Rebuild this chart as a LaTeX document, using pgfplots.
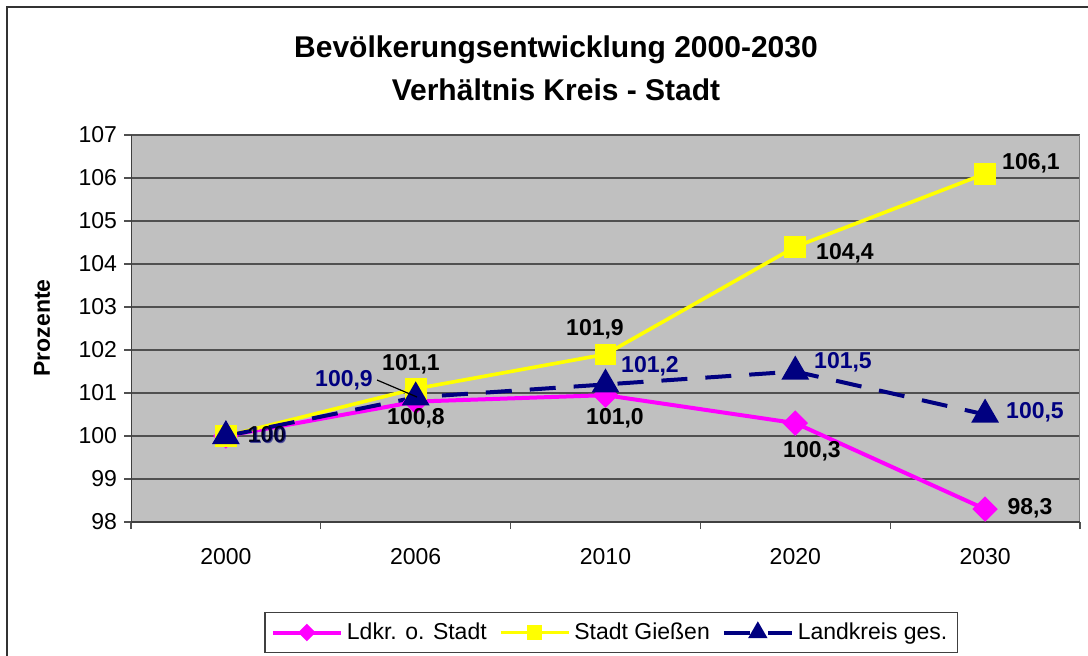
\documentclass[border=0pt]{standalone}
\usepackage{fontspec}
\setmainfont{Liberation Sans}
\usepackage{pgfplots}
\pgfplotsset{compat=1.18}
\definecolor{plotbg}{RGB}{192,192,192}
\definecolor{gridc}{RGB}{80,80,80}
\definecolor{navyc}{RGB}{0,0,128}
\definecolor{magc}{RGB}{255,0,255}
\definecolor{yelc}{RGB}{255,255,0}
\newcommand\lab{\fontsize{11.5}{13}\selectfont\bfseries}

\begin{document}
\begin{tikzpicture}
% frame and bounding box in pixel units (1px = 0.5pt)
\begin{scope}[x=0.5pt,y=-0.5pt]
\path[use as bounding box] (0,0) rectangle (1088,655);
\draw[line width=0.8pt, black!80] (7,660) -- (7,7) -- (1095,7);
\end{scope}

\begin{axis}[
  at={(65.5pt,-261pt)}, anchor=south west,
  scale only axis, width=474.5pt, height=193.5pt,
  xmin=-0.5, xmax=4.5, ymin=98, ymax=107,
  xtick={0,...,4}, xticklabels={2000,2006,2010,2020,2030},
  minor xtick={-0.5,0.5,...,4.5},
  ytick={98,...,107},
  xtick pos=bottom, ytick pos=left,
  tick align=outside, major tick length=3.5pt, minor tick length=3.5pt,
  major x tick style={draw=none},
  tick style={gridc, line width=0.6pt},
  ymajorgrids, grid style={gridc, line width=0.6pt},
  axis background/.style={fill=plotbg},
  axis line style={draw=none},
  ticklabel style={font=\fontsize{11.5}{13}\selectfont},
  /pgf/number format/assume math mode=true,
  xticklabel style={yshift=-6pt},
  legend style={at={(0.506,-0.2855)}, anchor=center, draw=black!75,
    line width=0.6pt, font=\fontsize{11.5}{13}\selectfont,
    inner ysep=3pt, inner xsep=3pt,
    /tikz/every even column/.append style={column sep=4pt}},
  legend columns=3,
  legend cell align=left,
  legend image code/.code={\draw[mark repeat=2, mark phase=2, #1,
    every mark/.append style={scale=0.6}]
    plot coordinates {(0pt,0pt) (17pt,0pt) (34pt,0pt)};},
]
\addplot[magc, line width=2pt, mark=square*, mark size=3.5pt,
  mark options={rotate=45, solid}]
  coordinates {(0,100) (1,100.8) (2,100.95) (3,100.3) (4,98.3)};
\addplot[yelc, line width=1.8pt, mark=square*, mark size=4.5pt,
  mark options={solid}]
  coordinates {(0,100) (1,101.1) (2,101.9) (3,104.4) (4,106.1)};
\addplot[navyc, line width=2pt, dash pattern=on 13pt off 9pt,
  mark=triangle*, mark size=6pt, mark options={solid}]
  coordinates {(0,100) (1,100.9) (2,101.2) (3,101.5) (4,100.5)};
\legend{Ldkr. o. Stadt, Stadt Gießen, Landkreis ges.}
\draw[gray, line width=0.6pt] (rel axis cs:1,0) -- (rel axis cs:1,1);
\draw[black!75, line width=0.8pt] (rel axis cs:0,1) -- (rel axis cs:0,0) -- (rel axis cs:1,0);
\end{axis}

% titles, axis label and data labels in pixel units
\begin{scope}[x=0.5pt,y=-0.5pt]
\node[font=\fontsize{15}{18}\selectfont\bfseries] at (556,50) {Bevölkerungsentwicklung 2000-2030};
\node[font=\fontsize{15}{18}\selectfont\bfseries] at (556,90) {Verhältnis Kreis - Stadt};
\node[rotate=90, font=\lab] at (42,328) {Prozente};

\draw[black, line width=0.6pt] (377,380) -- (417,397);

\node[font=\lab, black] at (267,435) {100};
\node[font=\lab, navyc, opacity=0.6] at (268,436) {100};
\node[font=\lab] at (411,364) {101,1};
\node[font=\lab, navyc] at (344,380) {100,9};
\node[font=\lab] at (416,418) {100,8};
\node[font=\lab] at (595,329) {101,9};
\node[font=\lab, navyc] at (650,366) {101,2};
\node[font=\lab] at (615,418) {101,0};
\node[font=\lab, navyc] at (843,362) {101,5};
\node[font=\lab] at (812,451) {100,3};
\node[font=\lab] at (845,253) {104,4};
\node[font=\lab] at (1031,163) {106,1};
\node[font=\lab, navyc] at (1035,412) {100,5};
\node[font=\lab] at (1030,508) {98,3};
\end{scope}
\end{tikzpicture}
\end{document}
